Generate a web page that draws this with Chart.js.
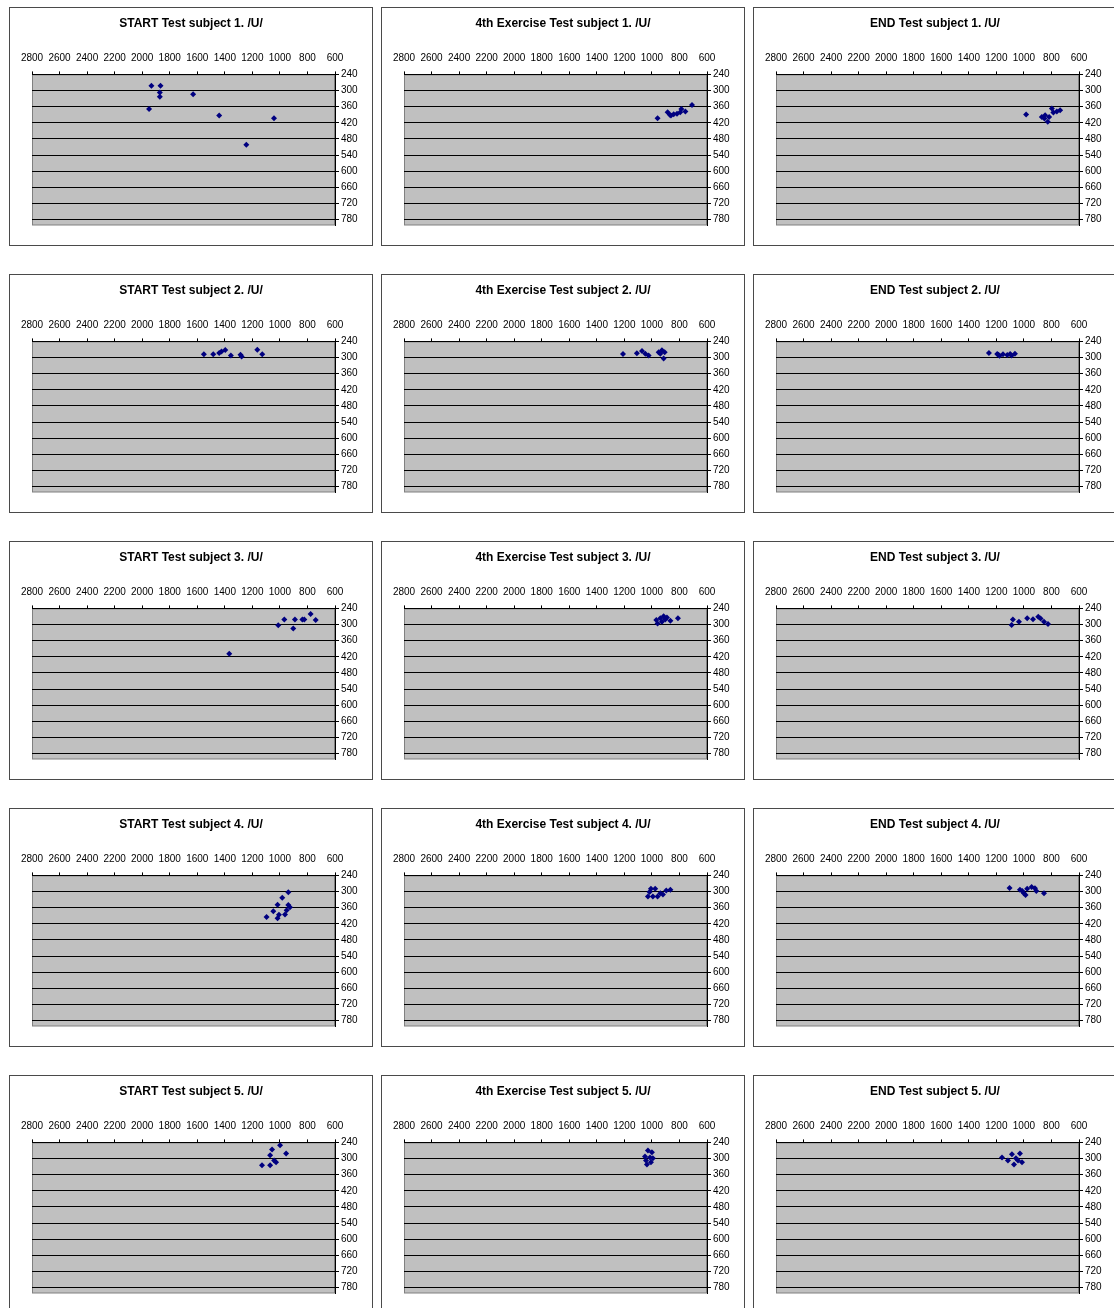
<!DOCTYPE html>
<html>
<head>
<meta charset="utf-8">
<title>Test subjects /U/</title>
<script src="https://cdn.jsdelivr.net/npm/chart.js@4/dist/chart.umd.min.js"></script>
<style>
  body { margin: 0; background: #fff; width: 1114px; height: 1308px; overflow: hidden; position: relative; }
  .panel { position: absolute; width: 364px; height: 239px; box-sizing: border-box; border: 1px solid #4a4a4a; background: #fff; }
  .panel canvas { display: block; }
</style>
</head>
<body>
<script>
// axis tick labels (as printed, left to right / top to bottom)
var xTickValues = [2800, 2600, 2400, 2200, 2000, 1800, 1600, 1400, 1200, 1000, 800, 600];
var yTickValues = [240, 300, 360, 420, 480, 540, 600, 660, 720, 780];

var stages = ['START', '4th Exercise', 'END'];
var subjects = [1, 2, 3, 4, 5];

// subject 1
var start1X = [1933, 1867, 1872, 1872, 1950, 1630, 1441, 1043, 1244];
var start1Y = [282, 282, 307, 323, 369, 314, 393, 403, 502];
var ex1X = [959, 886, 862, 842, 818, 794, 786, 757, 709, 870];
var ex1Y = [403, 381, 393, 388, 386, 381, 369, 378, 354, 390];
var end1X = [984, 870, 846, 827, 797, 786, 761, 737, 851, 817];
var end1Y = [389, 398, 392, 416, 367, 382, 378, 373, 404, 398];

// subject 2
var start2X = [1552, 1484, 1441, 1424, 1397, 1356, 1286, 1278, 1164, 1128];
var start2Y = [288, 288, 283, 278, 272, 292, 290, 296, 271, 288];
var ex2X = [1210, 1109, 1072, 1048, 1024, 951, 927, 915, 907, 939];
var ex2Y = [287, 284, 276, 286, 292, 280, 273, 304, 280, 286];
var end2X = [1254, 1194, 1185, 1177, 1152, 1121, 1100, 1089, 1065];
var end2Y = [283, 287, 290, 293, 288, 291, 287, 292, 286];

// subject 3
var start3X = [1368, 1012, 968, 903, 891, 837, 823, 777, 740];
var start3Y = [409, 303, 281, 315, 281, 281, 281, 261, 283];
var ex3X = [968, 959, 939, 915, 903, 866, 811, 927, 891];
var ex3Y = [283, 296, 277, 269, 281, 286, 277, 290, 274];
var end3X = [1089, 1080, 1036, 976, 934, 896, 879, 854, 825];
var end3Y = [302, 281, 290, 277, 280, 271, 278, 290, 298];

// subject 4
var start4X = [939, 983, 1017, 939, 927, 1048, 951, 963, 1097, 1017, 1007];
var start4Y = [303, 323, 349, 350, 358, 373, 370, 385, 395, 399, 386];
var ex4X = [1029, 1007, 976, 993, 959, 939, 920, 896, 866, 1017];
var ex4Y = [318, 290, 290, 318, 318, 306, 311, 296, 293, 302];
var end4X = [1104, 1029, 1000, 988, 976, 944, 920, 910, 854, 1012];
var end4Y = [287, 293, 306, 313, 290, 283, 288, 298, 306, 298];

// subject 5
var start5X = [999, 1071, 955, 1042, 1130, 1071, 1028, 1057];
var start5Y = [251, 288, 281, 307, 325, 325, 314, 266];
var ex5X = [1029, 1000, 1050, 1014, 1043, 1007, 1036, 993];
var ex5Y = [270, 277, 292, 296, 307, 314, 322, 299];
var end5X = [1159, 1116, 1087, 1058, 1029, 1014, 1072, 1043];
var end5Y = [296, 307, 284, 299, 281, 314, 322, 307];

var seriesX = [start1X, ex1X, end1X, start2X, ex2X, end2X, start3X, ex3X, end3X, start4X, ex4X, end4X, start5X, ex5X, end5X];
var seriesY = [start1Y, ex1Y, end1Y, start2Y, ex2Y, end2Y, start3Y, ex3Y, end3Y, start4Y, ex4Y, end4Y, start5Y, ex5Y, end5Y];

var colLeft = [9, 381, 753];
var rowTop = [7, 274, 541, 808, 1075];
var fontFam = '"Liberation Sans", Arial, sans-serif';

// grey plot area like the old spreadsheet charts
var plotBg = {
  id: 'plotBg',
  beforeDraw: function(chart) {
    var a = chart.chartArea;
    var c = chart.ctx;
    c.save();
    c.fillStyle = '#c0c0c0';
    c.fillRect(a.left, a.top, a.right - a.left, a.bottom - a.top);
    c.strokeStyle = '#808080';
    c.lineWidth = 1;
    c.strokeRect(a.left + 0.5, a.top + 0.5, a.right - a.left - 1, a.bottom - a.top - 0.5);
    c.restore();
  }
};

function tickList(values) {
  return values.slice().sort(function(a, b) { return a - b; }).map(function(v) { return {value: v}; });
}

// plain numbers, no thousands separator
function plain(v) {
  return String(v);
}

function makeChart(idx) {
  var col = idx % 3;
  var row = Math.floor(idx / 3);
  var title = stages[col] + ' Test subject ' + subjects[row] + '. /U/';

  var panel = document.createElement('div');
  panel.className = 'panel';
  panel.style.left = colLeft[col] + 'px';
  panel.style.top = rowTop[row] + 'px';
  var cv = document.createElement('canvas');
  cv.width = 362;
  cv.height = 237;
  panel.append(cv);
  document.body.append(panel);

  var pts = seriesX[idx].map(function(x, i) { return {x: x, y: seriesY[idx][i]}; });

  new Chart(cv, {
    type: 'scatter',
    data: {
      datasets: [{
        data: pts,
        pointStyle: 'rectRot',
        pointRadius: 3,
        borderWidth: 0,
        backgroundColor: '#000080',
        borderColor: '#000080'
      }]
    },
    options: {
      responsive: false,
      animation: false,
      devicePixelRatio: 1,
      layout: { padding: { left: 0, right: 0, top: 0, bottom: 20 } },
      plugins: {
        legend: { display: false },
        tooltip: { enabled: false },
        title: {
          display: true,
          text: title,
          color: '#000',
          font: { family: fontFam, size: 12, weight: 'bold' },
          padding: { top: 8, bottom: 0 }
        }
      },
      scales: {
        x: {
          type: 'linear',
          position: 'top',
          reverse: true,
          min: 600,
          max: 2800,
          afterBuildTicks: function(s) { s.ticks = tickList(xTickValues); },
          afterFit: function(s) { s.height = 44; },
          ticks: { autoSkip: false, maxRotation: 0, padding: 7, color: '#000', font: { family: fontFam, size: 10 }, callback: plain },
          grid: { drawOnChartArea: false, tickLength: 3, color: '#000' },
          border: { color: '#000', width: 1 }
        },
        y: {
          type: 'linear',
          position: 'right',
          reverse: true,
          min: 240,
          max: 800,
          afterBuildTicks: function(s) { s.ticks = tickList(yTickValues); },
          afterFit: function(s) { s.width = 37; },
          ticks: { autoSkip: false, padding: 2, color: '#000', font: { family: fontFam, size: 10 }, callback: plain },
          grid: { color: '#000', tickLength: 4 },
          border: { color: '#000', width: 1 }
        },
        // empty spacer on the left so the title stays centred on the panel
        yLeft: {
          type: 'linear',
          position: 'left',
          min: 240,
          max: 800,
          afterFit: function(s) { s.width = 22; },
          ticks: { display: false },
          grid: { display: false },
          border: { display: false }
        }
      }
    },
    plugins: [plotBg]
  });
}

for (var i = 0; i < 15; i++) {
  makeChart(i);
}
</script>
</body>
</html>
